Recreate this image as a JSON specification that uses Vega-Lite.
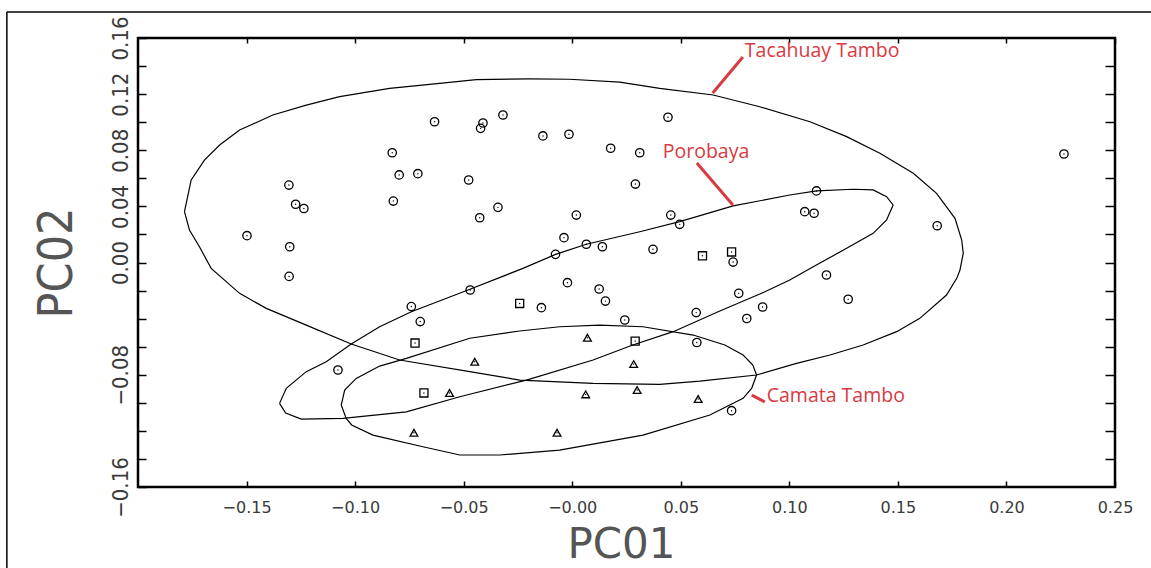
{
  "$schema": "https://vega.github.io/schema/vega-lite/v6.json",
  "width": 977,
  "height": 449,
  "autosize": {"type": "none"},
  "padding": {"left": 138, "top": 38, "right": 36, "bottom": 81},
  "background": "white",
  "config": {
    "view": {"stroke": "black", "strokeWidth": 2.5},
    "axis": {"grid": false, "domain": false, "tickColor": "black", "tickWidth": 1.5}
  },
  "datasets": {
    "pts": [
      {"x": -0.0634, "y": 0.1003, "group": "Tacahuay Tambo"},
      {"x": -0.0829, "y": 0.0782, "group": "Tacahuay Tambo"},
      {"x": -0.0797, "y": 0.0624, "group": "Tacahuay Tambo"},
      {"x": -0.0711, "y": 0.0633, "group": "Tacahuay Tambo"},
      {"x": -0.0477, "y": 0.0588, "group": "Tacahuay Tambo"},
      {"x": -0.1305, "y": 0.0552, "group": "Tacahuay Tambo"},
      {"x": -0.0824, "y": 0.0438, "group": "Tacahuay Tambo"},
      {"x": -0.1274, "y": 0.0415, "group": "Tacahuay Tambo"},
      {"x": -0.1236, "y": 0.0385, "group": "Tacahuay Tambo"},
      {"x": -0.1498, "y": 0.0191, "group": "Tacahuay Tambo"},
      {"x": -0.1301, "y": 0.0112, "group": "Tacahuay Tambo"},
      {"x": -0.1304, "y": -0.0099, "group": "Tacahuay Tambo"},
      {"x": -0.0319, "y": 0.1051, "group": "Tacahuay Tambo"},
      {"x": -0.0411, "y": 0.0994, "group": "Tacahuay Tambo"},
      {"x": -0.0422, "y": 0.0956, "group": "Tacahuay Tambo"},
      {"x": 0.0441, "y": 0.1035, "group": "Tacahuay Tambo"},
      {"x": -0.0135, "y": 0.0902, "group": "Tacahuay Tambo"},
      {"x": -0.0015, "y": 0.0914, "group": "Tacahuay Tambo"},
      {"x": 0.0177, "y": 0.0814, "group": "Tacahuay Tambo"},
      {"x": 0.0311, "y": 0.0782, "group": "Tacahuay Tambo"},
      {"x": 0.0291, "y": 0.0559, "group": "Tacahuay Tambo"},
      {"x": -0.0342, "y": 0.0393, "group": "Tacahuay Tambo"},
      {"x": -0.0426, "y": 0.0319, "group": "Tacahuay Tambo"},
      {"x": 0.0019, "y": 0.0338, "group": "Tacahuay Tambo"},
      {"x": 0.0454, "y": 0.0338, "group": "Tacahuay Tambo"},
      {"x": 0.0495, "y": 0.0272, "group": "Tacahuay Tambo"},
      {"x": -0.0038, "y": 0.0177, "group": "Tacahuay Tambo"},
      {"x": 0.0065, "y": 0.0130, "group": "Tacahuay Tambo"},
      {"x": 0.0139, "y": 0.0112, "group": "Tacahuay Tambo"},
      {"x": -0.0077, "y": 0.0058, "group": "Tacahuay Tambo"},
      {"x": 0.0372, "y": 0.0094, "group": "Tacahuay Tambo"},
      {"x": 0.0741, "y": 0.0003, "group": "Tacahuay Tambo"},
      {"x": 0.1125, "y": 0.0510, "group": "Tacahuay Tambo"},
      {"x": 0.1071, "y": 0.0362, "group": "Tacahuay Tambo"},
      {"x": 0.1114, "y": 0.0351, "group": "Tacahuay Tambo"},
      {"x": 0.1681, "y": 0.0262, "group": "Tacahuay Tambo"},
      {"x": 0.2265, "y": 0.0773, "group": "Tacahuay Tambo"},
      {"x": -0.0470, "y": -0.0196, "group": "Tacahuay Tambo"},
      {"x": -0.0022, "y": -0.0144, "group": "Tacahuay Tambo"},
      {"x": 0.0124, "y": -0.0189, "group": "Tacahuay Tambo"},
      {"x": 0.0153, "y": -0.0275, "group": "Tacahuay Tambo"},
      {"x": -0.0142, "y": -0.0322, "group": "Tacahuay Tambo"},
      {"x": 0.0242, "y": -0.0410, "group": "Tacahuay Tambo"},
      {"x": 0.0571, "y": -0.0357, "group": "Tacahuay Tambo"},
      {"x": 0.0767, "y": -0.0220, "group": "Tacahuay Tambo"},
      {"x": 0.0877, "y": -0.0317, "group": "Tacahuay Tambo"},
      {"x": 0.0804, "y": -0.0399, "group": "Tacahuay Tambo"},
      {"x": 0.0574, "y": -0.0570, "group": "Tacahuay Tambo"},
      {"x": 0.0734, "y": -0.1056, "group": "Tacahuay Tambo"},
      {"x": 0.1171, "y": -0.0089, "group": "Tacahuay Tambo"},
      {"x": 0.1271, "y": -0.0262, "group": "Tacahuay Tambo"},
      {"x": -0.0741, "y": -0.0314, "group": "Tacahuay Tambo"},
      {"x": -0.0700, "y": -0.0421, "group": "Tacahuay Tambo"},
      {"x": -0.1079, "y": -0.0766, "group": "Tacahuay Tambo"},
      {"x": -0.0242, "y": -0.0292, "group": "Porobaya"},
      {"x": 0.0290, "y": -0.0560, "group": "Porobaya"},
      {"x": -0.0724, "y": -0.0574, "group": "Porobaya"},
      {"x": -0.0683, "y": -0.0930, "group": "Porobaya"},
      {"x": 0.0600, "y": 0.0048, "group": "Porobaya"},
      {"x": 0.0734, "y": 0.0075, "group": "Porobaya"},
      {"x": 0.0070, "y": -0.0536, "group": "Camata Tambo"},
      {"x": -0.0449, "y": -0.0707, "group": "Camata Tambo"},
      {"x": 0.0283, "y": -0.0724, "group": "Camata Tambo"},
      {"x": 0.0062, "y": -0.0940, "group": "Camata Tambo"},
      {"x": 0.0299, "y": -0.0909, "group": "Camata Tambo"},
      {"x": 0.0580, "y": -0.0973, "group": "Camata Tambo"},
      {"x": -0.0070, "y": -0.1213, "group": "Camata Tambo"},
      {"x": -0.0565, "y": -0.0930, "group": "Camata Tambo"},
      {"x": -0.0729, "y": -0.1213, "group": "Camata Tambo"}
    ],
    "ell": [
      {"group": "Tacahuay Tambo", "i": 0, "x": -0.1786, "y": 0.0362},
      {"group": "Tacahuay Tambo", "i": 1, "x": -0.1755, "y": 0.0588},
      {"group": "Tacahuay Tambo", "i": 2, "x": -0.1694, "y": 0.0730},
      {"group": "Tacahuay Tambo", "i": 3, "x": -0.1624, "y": 0.0837},
      {"group": "Tacahuay Tambo", "i": 4, "x": -0.1532, "y": 0.0944},
      {"group": "Tacahuay Tambo", "i": 5, "x": -0.1379, "y": 0.1051},
      {"group": "Tacahuay Tambo", "i": 6, "x": -0.1225, "y": 0.1122},
      {"group": "Tacahuay Tambo", "i": 7, "x": -0.1071, "y": 0.1182},
      {"group": "Tacahuay Tambo", "i": 8, "x": -0.0841, "y": 0.1241},
      {"group": "Tacahuay Tambo", "i": 9, "x": -0.0611, "y": 0.1277},
      {"group": "Tacahuay Tambo", "i": 10, "x": -0.0442, "y": 0.1304},
      {"group": "Tacahuay Tambo", "i": 11, "x": -0.0196, "y": 0.1308},
      {"group": "Tacahuay Tambo", "i": 12, "x": -0.0012, "y": 0.1306},
      {"group": "Tacahuay Tambo", "i": 13, "x": 0.0219, "y": 0.1286},
      {"group": "Tacahuay Tambo", "i": 14, "x": 0.0403, "y": 0.1241},
      {"group": "Tacahuay Tambo", "i": 15, "x": 0.0649, "y": 0.1194},
      {"group": "Tacahuay Tambo", "i": 16, "x": 0.0864, "y": 0.1110},
      {"group": "Tacahuay Tambo", "i": 17, "x": 0.1095, "y": 0.1003},
      {"group": "Tacahuay Tambo", "i": 18, "x": 0.1264, "y": 0.0897},
      {"group": "Tacahuay Tambo", "i": 19, "x": 0.1417, "y": 0.0778},
      {"group": "Tacahuay Tambo", "i": 20, "x": 0.1571, "y": 0.0636},
      {"group": "Tacahuay Tambo", "i": 21, "x": 0.1678, "y": 0.0493},
      {"group": "Tacahuay Tambo", "i": 22, "x": 0.1763, "y": 0.0315},
      {"group": "Tacahuay Tambo", "i": 23, "x": 0.1794, "y": 0.0160},
      {"group": "Tacahuay Tambo", "i": 24, "x": 0.1801, "y": 0.0065},
      {"group": "Tacahuay Tambo", "i": 25, "x": 0.1786, "y": -0.0054},
      {"group": "Tacahuay Tambo", "i": 26, "x": 0.1771, "y": -0.0113},
      {"group": "Tacahuay Tambo", "i": 27, "x": 0.1724, "y": -0.0232},
      {"group": "Tacahuay Tambo", "i": 28, "x": 0.1601, "y": -0.0398},
      {"group": "Tacahuay Tambo", "i": 29, "x": 0.1494, "y": -0.0493},
      {"group": "Tacahuay Tambo", "i": 30, "x": 0.1340, "y": -0.0588},
      {"group": "Tacahuay Tambo", "i": 31, "x": 0.1187, "y": -0.0659},
      {"group": "Tacahuay Tambo", "i": 32, "x": 0.1033, "y": -0.0719},
      {"group": "Tacahuay Tambo", "i": 33, "x": 0.0849, "y": -0.0802},
      {"group": "Tacahuay Tambo", "i": 34, "x": 0.0588, "y": -0.0845},
      {"group": "Tacahuay Tambo", "i": 35, "x": 0.0403, "y": -0.0868},
      {"group": "Tacahuay Tambo", "i": 36, "x": 0.0096, "y": -0.0861},
      {"group": "Tacahuay Tambo", "i": 37, "x": -0.0242, "y": -0.0838},
      {"group": "Tacahuay Tambo", "i": 38, "x": -0.0472, "y": -0.0778},
      {"group": "Tacahuay Tambo", "i": 39, "x": -0.0795, "y": -0.0695},
      {"group": "Tacahuay Tambo", "i": 40, "x": -0.1018, "y": -0.0581},
      {"group": "Tacahuay Tambo", "i": 41, "x": -0.1225, "y": -0.0446},
      {"group": "Tacahuay Tambo", "i": 42, "x": -0.1409, "y": -0.0327},
      {"group": "Tacahuay Tambo", "i": 43, "x": -0.1532, "y": -0.0220},
      {"group": "Tacahuay Tambo", "i": 44, "x": -0.1663, "y": -0.0042},
      {"group": "Tacahuay Tambo", "i": 45, "x": -0.1717, "y": 0.0112},
      {"group": "Tacahuay Tambo", "i": 46, "x": -0.1763, "y": 0.0232},
      {"group": "Tacahuay Tambo", "i": 47, "x": -0.1786, "y": 0.0362},
      {"group": "Porobaya", "i": 0, "x": -0.1348, "y": -0.1004},
      {"group": "Porobaya", "i": 1, "x": -0.1317, "y": -0.0897},
      {"group": "Porobaya", "i": 2, "x": -0.1225, "y": -0.0778},
      {"group": "Porobaya", "i": 3, "x": -0.1133, "y": -0.0707},
      {"group": "Porobaya", "i": 4, "x": -0.1018, "y": -0.0581},
      {"group": "Porobaya", "i": 5, "x": -0.0887, "y": -0.0458},
      {"group": "Porobaya", "i": 6, "x": -0.0741, "y": -0.0351},
      {"group": "Porobaya", "i": 7, "x": -0.0588, "y": -0.0260},
      {"group": "Porobaya", "i": 8, "x": -0.0480, "y": -0.0196},
      {"group": "Porobaya", "i": 9, "x": -0.0227, "y": -0.0042},
      {"group": "Porobaya", "i": 10, "x": -0.0077, "y": 0.0058},
      {"group": "Porobaya", "i": 11, "x": 0.0065, "y": 0.0130},
      {"group": "Porobaya", "i": 12, "x": 0.0311, "y": 0.0219},
      {"group": "Porobaya", "i": 13, "x": 0.0495, "y": 0.0291},
      {"group": "Porobaya", "i": 14, "x": 0.0741, "y": 0.0403},
      {"group": "Porobaya", "i": 15, "x": 0.1002, "y": 0.0481},
      {"group": "Porobaya", "i": 16, "x": 0.1125, "y": 0.0510},
      {"group": "Porobaya", "i": 17, "x": 0.1294, "y": 0.0522},
      {"group": "Porobaya", "i": 18, "x": 0.1386, "y": 0.0517},
      {"group": "Porobaya", "i": 19, "x": 0.1448, "y": 0.0469},
      {"group": "Porobaya", "i": 20, "x": 0.1478, "y": 0.0410},
      {"group": "Porobaya", "i": 21, "x": 0.1448, "y": 0.0303},
      {"group": "Porobaya", "i": 22, "x": 0.1386, "y": 0.0208},
      {"group": "Porobaya", "i": 23, "x": 0.1264, "y": 0.0101},
      {"group": "Porobaya", "i": 24, "x": 0.1110, "y": -0.0030},
      {"group": "Porobaya", "i": 25, "x": 0.1002, "y": -0.0125},
      {"group": "Porobaya", "i": 26, "x": 0.0864, "y": -0.0225},
      {"group": "Porobaya", "i": 27, "x": 0.0680, "y": -0.0346},
      {"group": "Porobaya", "i": 28, "x": 0.0465, "y": -0.0493},
      {"group": "Porobaya", "i": 29, "x": 0.0279, "y": -0.0588},
      {"group": "Porobaya", "i": 30, "x": 0.0096, "y": -0.0695},
      {"group": "Porobaya", "i": 31, "x": -0.0211, "y": -0.0838},
      {"group": "Porobaya", "i": 32, "x": -0.0518, "y": -0.0957},
      {"group": "Porobaya", "i": 33, "x": -0.0764, "y": -0.1064},
      {"group": "Porobaya", "i": 34, "x": -0.1056, "y": -0.1111},
      {"group": "Porobaya", "i": 35, "x": -0.1248, "y": -0.1116},
      {"group": "Porobaya", "i": 36, "x": -0.1320, "y": -0.1073},
      {"group": "Porobaya", "i": 37, "x": -0.1348, "y": -0.1004},
      {"group": "Camata Tambo", "i": 0, "x": -0.1064, "y": -0.1016},
      {"group": "Camata Tambo", "i": 1, "x": -0.1048, "y": -0.0909},
      {"group": "Camata Tambo", "i": 2, "x": -0.0995, "y": -0.0826},
      {"group": "Camata Tambo", "i": 3, "x": -0.0887, "y": -0.0738},
      {"group": "Camata Tambo", "i": 4, "x": -0.0764, "y": -0.0683},
      {"group": "Camata Tambo", "i": 5, "x": -0.0472, "y": -0.0540},
      {"group": "Camata Tambo", "i": 6, "x": -0.0242, "y": -0.0488},
      {"group": "Camata Tambo", "i": 7, "x": -0.0058, "y": -0.0458},
      {"group": "Camata Tambo", "i": 8, "x": 0.0127, "y": -0.0446},
      {"group": "Camata Tambo", "i": 9, "x": 0.0326, "y": -0.0458},
      {"group": "Camata Tambo", "i": 10, "x": 0.0557, "y": -0.0517},
      {"group": "Camata Tambo", "i": 11, "x": 0.0703, "y": -0.0588},
      {"group": "Camata Tambo", "i": 12, "x": 0.0787, "y": -0.0659},
      {"group": "Camata Tambo", "i": 13, "x": 0.0832, "y": -0.0731},
      {"group": "Camata Tambo", "i": 14, "x": 0.0849, "y": -0.0802},
      {"group": "Camata Tambo", "i": 15, "x": 0.0827, "y": -0.0895},
      {"group": "Camata Tambo", "i": 16, "x": 0.0787, "y": -0.0968},
      {"group": "Camata Tambo", "i": 17, "x": 0.0634, "y": -0.1087},
      {"group": "Camata Tambo", "i": 18, "x": 0.0326, "y": -0.1230},
      {"group": "Camata Tambo", "i": 19, "x": -0.0058, "y": -0.1337},
      {"group": "Camata Tambo", "i": 20, "x": -0.0334, "y": -0.1372},
      {"group": "Camata Tambo", "i": 21, "x": -0.0518, "y": -0.1372},
      {"group": "Camata Tambo", "i": 22, "x": -0.0688, "y": -0.1313},
      {"group": "Camata Tambo", "i": 23, "x": -0.0918, "y": -0.1230},
      {"group": "Camata Tambo", "i": 24, "x": -0.1016, "y": -0.1158},
      {"group": "Camata Tambo", "i": 25, "x": -0.1041, "y": -0.1111},
      {"group": "Camata Tambo", "i": 26, "x": -0.1064, "y": -0.1016}
    ],
    "ann": [
      {"label": "Tacahuay Tambo", "x": 0.0795, "y": 0.1465},
      {"label": "Porobaya", "x": 0.0417, "y": 0.0745},
      {"label": "Camata Tambo", "x": 0.0896, "y": -0.0994}
    ],
    "lead": [
      {"x": 0.0786, "y": 0.1465, "x2": 0.0647, "y2": 0.1208},
      {"x": 0.0574, "y": 0.0709, "x2": 0.0740, "y2": 0.0410},
      {"x": 0.0827, "y": -0.0945, "x2": 0.0887, "y2": -0.0994}
    ],
    "frame": [
      {"x": -0.2604, "y": 0.1785, "x2": 0.6, "y2": 0.1785},
      {"x": -0.2604, "y": 0.1785, "x2": -0.2604, "y2": -0.6}
    ]
  },
  "layer": [
    {
      "data": {"name": "frame"},
      "mark": {"type": "rule", "color": "black", "strokeWidth": 1.5, "clip": false},
      "encoding": {
        "x": {"field": "x", "type": "quantitative", "scale": {"domain": [-0.2, 0.25], "nice": false, "zero": false}, "axis": null},
        "y": {"field": "y", "type": "quantitative", "scale": {"domain": [-0.16, 0.16], "nice": false, "zero": false}, "axis": null},
        "x2": {"field": "x2"},
        "y2": {"field": "y2"}
      }
    },
    {
      "data": {"name": "ell"},
      "mark": {"type": "line", "color": "black", "strokeWidth": 1.2},
      "encoding": {
        "x": {
          "field": "x", "type": "quantitative",
          "axis": {
            "orient": "bottom",
            "values": [-0.15, -0.1, -0.05, 0, 0.05, 0.1, 0.15, 0.2, 0.25],
            "labelExpr": "datum.value == 0 ? '\u22120.00' : format(datum.value, '.2f')",
            "tickSize": -6,
            "labelPadding": 18,
            "labelFont": "DejaVu Sans",
            "labelFontSize": 16,
            "labelColor": "#3a3a3a",
            "labelFlush": false,
            "labelOverlap": false,
            "title": "PC01",
            "titleFont": "DejaVu Sans",
            "titleFontSize": 42,
            "titleFontWeight": "normal",
            "titleColor": "#555555",
            "titleX": 483,
            "titleY": 70,
            "titleAlign": "center",
            "titleBaseline": "alphabetic"
          }
        },
        "y": {
          "field": "y", "type": "quantitative",
          "axis": {
            "orient": "left",
            "values": [-0.16, -0.14, -0.12, -0.1, -0.08, -0.06, -0.04, -0.02, 0, 0.02, 0.04, 0.06, 0.08, 0.1, 0.12, 0.14, 0.16],
            "labelExpr": "indexof([16, 12, 8, 4, 0, -8, -16], round(datum.value * 100)) >= 0 ? format(datum.value, '.2f') : ''",
            "tickSize": -8,
            "labelPadding": 19,
            "labelAngle": 270,
            "labelAlign": "center",
            "labelBaseline": "alphabetic",
            "labelFont": "Liberation Sans Narrow, DejaVu Sans Condensed, DejaVu Sans Mono",
            "labelFontSize": 22,
            "labelColor": "#3a3a3a",
            "labelFlush": false,
            "labelOverlap": false,
            "title": "PC02",
            "titleFont": "Liberation Sans Narrow, DejaVu Sans Condensed, DejaVu Sans",
            "titleFontSize": 48,
            "titleFontWeight": "normal",
            "titleColor": "#555555",
            "titleAngle": 270,
            "titleX": -81,
            "titleY": 224.5,
            "titleAlign": "center",
            "titleBaseline": "middle"
          }
        },
        "detail": {"field": "group"},
        "order": {"field": "i", "type": "quantitative"}
      }
    },
    {
      "data": {"name": "pts"},
      "mark": {"type": "point", "filled": false, "stroke": "black", "strokeWidth": 1.3, "opacity": 1},
      "encoding": {
        "x": {
          "field": "x", "type": "quantitative",
          "axis": {"orient": "top", "values": [-0.15, -0.1, -0.05, 0, 0.05, 0.1, 0.15, 0.2, 0.25], "labels": false, "tickSize": -5, "title": null}
        },
        "y": {
          "field": "y", "type": "quantitative",
          "axis": {"orient": "right", "values": [-0.14, -0.12, -0.1, -0.08, -0.06, -0.04, -0.02, 0, 0.02, 0.04, 0.06, 0.08, 0.1, 0.12, 0.14], "labels": false, "tickSize": -10, "title": null}
        },
        "shape": {
          "field": "group", "type": "nominal",
          "scale": {"domain": ["Tacahuay Tambo", "Porobaya", "Camata Tambo"], "range": ["circle", "square", "triangle-up"]},
          "legend": null
        },
        "size": {
          "field": "group", "type": "nominal",
          "scale": {"domain": ["Tacahuay Tambo", "Porobaya", "Camata Tambo"], "range": [70, 60, 80]},
          "legend": null
        }
      }
    },
    {
      "data": {"name": "pts"},
      "mark": {"type": "circle", "color": "black", "size": 2, "opacity": 1},
      "encoding": {
        "x": {"field": "x", "type": "quantitative", "axis": null},
        "y": {"field": "y", "type": "quantitative", "axis": null}
      }
    },
    {
      "data": {"name": "lead"},
      "mark": {"type": "rule", "color": "#d93a3f", "strokeWidth": 3},
      "encoding": {
        "x": {"field": "x", "type": "quantitative", "axis": null},
        "y": {"field": "y", "type": "quantitative", "axis": null},
        "x2": {"field": "x2"},
        "y2": {"field": "y2"}
      }
    },
    {
      "data": {"name": "ann"},
      "mark": {"type": "text", "color": "#d93a3f", "font": "Open Sans", "fontSize": 19.5, "align": "left", "baseline": "alphabetic"},
      "encoding": {
        "x": {"field": "x", "type": "quantitative", "axis": null},
        "y": {"field": "y", "type": "quantitative", "axis": null},
        "text": {"field": "label"}
      }
    }
  ],
  "resolve": {"axis": {"x": "independent", "y": "independent"}}
}
